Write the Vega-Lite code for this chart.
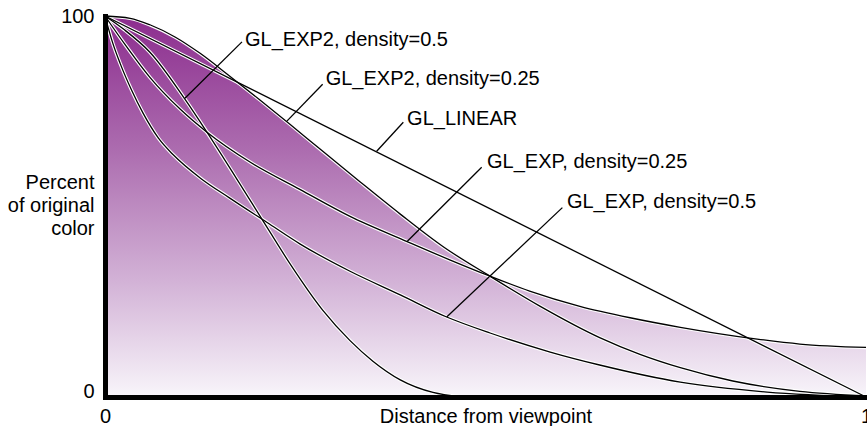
{
  "$schema": "https://vega.github.io/schema/vega-lite/v6.json",
  "width": 761,
  "height": 381,
  "padding": {"left": 105, "top": 16, "right": 1, "bottom": 29},
  "autosize": {"type": "none"},
  "background": "white",
  "config": {
    "view": {"stroke": null},
    "font": "Liberation Sans",
    "axis": {
      "grid": false, "ticks": false, "tickSize": 0,
      "domain": true, "domainColor": "#000000", "domainWidth": 5, "domainCap": "square",
      "labelFontSize": 20, "labelColor": "black",
      "labelFlush": false, "labelOverlap": false,
      "titleFontSize": 20, "titleFontWeight": "normal", "titleColor": "black"
    }
  },
  "datasets": {
    "envelope": [
      {"x": 0, "y": 100}, {"x": 0.033, "y": 99.4}, {"x": 0.059, "y": 97.7}, {"x": 0.092, "y": 94.5},
      {"x": 0.125, "y": 90.2}, {"x": 0.164, "y": 84.2}, {"x": 0.204, "y": 77.9}, {"x": 0.243, "y": 71.6},
      {"x": 0.283, "y": 65.0}, {"x": 0.335, "y": 56.5}, {"x": 0.388, "y": 48.0}, {"x": 0.444, "y": 39.5},
      {"x": 0.506, "y": 31.7}, {"x": 0.558, "y": 27.8}, {"x": 0.624, "y": 23.8}, {"x": 0.69, "y": 20.8},
      {"x": 0.756, "y": 18.3}, {"x": 0.857, "y": 15.2}, {"x": 0.913, "y": 13.9}, {"x": 1, "y": 13.0}
    ],
    "curves": [
      {"s": "linear", "x": 0, "y": 100}, {"s": "linear", "x": 1, "y": 0},
      {"s": "exp2_025", "x": 0, "y": 100}, {"s": "exp2_025", "x": 0.033, "y": 99.4}, {"s": "exp2_025", "x": 0.059, "y": 97.7},
      {"s": "exp2_025", "x": 0.092, "y": 94.5}, {"s": "exp2_025", "x": 0.125, "y": 90.2}, {"s": "exp2_025", "x": 0.164, "y": 84.2},
      {"s": "exp2_025", "x": 0.204, "y": 77.9}, {"s": "exp2_025", "x": 0.243, "y": 71.6}, {"s": "exp2_025", "x": 0.283, "y": 65.0},
      {"s": "exp2_025", "x": 0.335, "y": 56.5}, {"s": "exp2_025", "x": 0.388, "y": 48.0}, {"s": "exp2_025", "x": 0.444, "y": 39.5},
      {"s": "exp2_025", "x": 0.506, "y": 31.7}, {"s": "exp2_025", "x": 0.572, "y": 23.8}, {"s": "exp2_025", "x": 0.65, "y": 15.6},
      {"s": "exp2_025", "x": 0.703, "y": 11.2}, {"s": "exp2_025", "x": 0.756, "y": 7.7}, {"s": "exp2_025", "x": 0.825, "y": 4.2},
      {"s": "exp2_025", "x": 0.913, "y": 1.5}, {"s": "exp2_025", "x": 1, "y": 0.3},
      {"s": "exp_025", "x": 0, "y": 100}, {"s": "exp_025", "x": 0.026, "y": 92.6}, {"s": "exp_025", "x": 0.059, "y": 83.9},
      {"s": "exp_025", "x": 0.099, "y": 75.5}, {"s": "exp_025", "x": 0.134, "y": 69.5}, {"s": "exp_025", "x": 0.191, "y": 61.6},
      {"s": "exp_025", "x": 0.256, "y": 54.5}, {"s": "exp_025", "x": 0.322, "y": 47.4}, {"s": "exp_025", "x": 0.397, "y": 40.8},
      {"s": "exp_025", "x": 0.453, "y": 36.0}, {"s": "exp_025", "x": 0.506, "y": 31.7}, {"s": "exp_025", "x": 0.558, "y": 27.8},
      {"s": "exp_025", "x": 0.624, "y": 23.8}, {"s": "exp_025", "x": 0.69, "y": 20.8}, {"s": "exp_025", "x": 0.756, "y": 18.3},
      {"s": "exp_025", "x": 0.857, "y": 15.2}, {"s": "exp_025", "x": 0.913, "y": 13.9}, {"s": "exp_025", "x": 1, "y": 13.0},
      {"s": "exp_05", "x": 0, "y": 100}, {"s": "exp_05", "x": 0.01, "y": 93.0}, {"s": "exp_05", "x": 0.02, "y": 87.5},
      {"s": "exp_05", "x": 0.035, "y": 80.5}, {"s": "exp_05", "x": 0.05, "y": 74.5}, {"s": "exp_05", "x": 0.07, "y": 68.0},
      {"s": "exp_05", "x": 0.09, "y": 63.5}, {"s": "exp_05", "x": 0.125, "y": 57.5}, {"s": "exp_05", "x": 0.164, "y": 52.2},
      {"s": "exp_05", "x": 0.213, "y": 45.8}, {"s": "exp_05", "x": 0.256, "y": 40.2}, {"s": "exp_05", "x": 0.322, "y": 33.0},
      {"s": "exp_05", "x": 0.388, "y": 26.8}, {"s": "exp_05", "x": 0.449, "y": 21.0}, {"s": "exp_05", "x": 0.506, "y": 16.8},
      {"s": "exp_05", "x": 0.585, "y": 11.8}, {"s": "exp_05", "x": 0.65, "y": 8.4}, {"s": "exp_05", "x": 0.756, "y": 3.9},
      {"s": "exp_05", "x": 0.87, "y": 1.3}, {"s": "exp_05", "x": 1, "y": 0},
      {"s": "exp2_05", "x": 0, "y": 100}, {"s": "exp2_05", "x": 0.026, "y": 96.3}, {"s": "exp2_05", "x": 0.059, "y": 90.5},
      {"s": "exp2_05", "x": 0.105, "y": 78.2}, {"s": "exp2_05", "x": 0.134, "y": 69.5}, {"s": "exp2_05", "x": 0.171, "y": 57.9},
      {"s": "exp2_05", "x": 0.213, "y": 44.5}, {"s": "exp2_05", "x": 0.243, "y": 35.0}, {"s": "exp2_05", "x": 0.286, "y": 22.8},
      {"s": "exp2_05", "x": 0.322, "y": 14.8}, {"s": "exp2_05", "x": 0.352, "y": 9.4}, {"s": "exp2_05", "x": 0.388, "y": 4.5},
      {"s": "exp2_05", "x": 0.431, "y": 1.2}, {"s": "exp2_05", "x": 0.466, "y": 0.1}
    ],
    "labels": [
      {"text": "GL_EXP2, density=0.5", "x": 0.184, "y": 93.7, "x1": 0.105, "y1": 78.4, "x2": 0.18, "y2": 93.2},
      {"text": "GL_EXP2, density=0.25", "x": 0.29, "y": 83.4, "x1": 0.239, "y1": 72.4, "x2": 0.286, "y2": 82.1},
      {"text": "GL_LINEAR", "x": 0.397, "y": 72.9, "x1": 0.357, "y1": 64.5, "x2": 0.392, "y2": 72.1},
      {"text": "GL_EXP, density=0.25", "x": 0.502, "y": 61.8, "x1": 0.397, "y1": 40.8, "x2": 0.495, "y2": 60.3},
      {"text": "GL_EXP, density=0.5", "x": 0.607, "y": 51.3, "x1": 0.449, "y1": 21.0, "x2": 0.601, "y2": 49.7}
    ]
  },
  "layer": [
    {
      "data": {"name": "envelope"},
      "mark": {
        "type": "area",
        "interpolate": "monotone",
        "fill": {
          "gradient": "linear", "x1": 0, "y1": 0, "x2": 0, "y2": 1,
          "stops": [
            {"offset": 0, "color": "#8C2D8E"},
            {"offset": 0.35, "color": "#AC6CAF"},
            {"offset": 0.7, "color": "#D3B3D7"},
            {"offset": 1, "color": "#F8F5FA"}
          ]
        }
      },
      "encoding": {
        "x": {
          "field": "x", "type": "quantitative",
          "scale": {"domain": [0, 1], "nice": false},
          "axis": {
            "values": [0, 1], "format": "d", "title": "Distance from viewpoint",
            "domain": true, "domainColor": "#000000", "domainWidth": 5, "zindex": 1,
            "labelBaseline": "alphabetic", "labelPadding": 25,
            "titleBaseline": "alphabetic", "titleY": 25
          }
        },
        "y": {
          "field": "y", "type": "quantitative",
          "scale": {"domain": [0, 100], "nice": false},
          "axis": {
            "values": [0, 100], "title": ["Percent", "of original", "color"],
            "domain": true, "domainColor": "#000000", "domainWidth": 5, "zindex": 1,
            "labelPadding": 11,
            "labelBaseline": {"condition": {"test": "datum.value == 0", "value": "alphabetic"}, "value": "middle"},
            "titleAngle": 0, "titleAlign": "right", "titleBaseline": "middle",
            "titleX": -11, "titleY": 166, "titleLineHeight": 23
          }
        }
      }
    },
    {
      "data": {"name": "curves"},
      "mark": {"type": "line", "stroke": "white", "strokeWidth": 3.5, "interpolate": "monotone"},
      "encoding": {
        "x": {"field": "x", "type": "quantitative"},
        "y": {"field": "y", "type": "quantitative"},
        "detail": {"field": "s"}
      }
    },
    {
      "data": {"name": "curves"},
      "mark": {"type": "line", "stroke": "black", "strokeWidth": 1.3, "interpolate": "monotone"},
      "encoding": {
        "x": {"field": "x", "type": "quantitative"},
        "y": {"field": "y", "type": "quantitative"},
        "detail": {"field": "s"}
      }
    },
    {
      "data": {"name": "labels"},
      "mark": {"type": "rule", "stroke": "black", "strokeWidth": 1.3},
      "encoding": {
        "x": {"field": "x1", "type": "quantitative"},
        "y": {"field": "y1", "type": "quantitative"},
        "x2": {"field": "x2"},
        "y2": {"field": "y2"}
      }
    },
    {
      "data": {"name": "labels"},
      "mark": {"type": "text", "align": "left", "baseline": "middle", "fontSize": 20, "font": "Liberation Sans", "color": "black"},
      "encoding": {
        "x": {"field": "x", "type": "quantitative"},
        "y": {"field": "y", "type": "quantitative"},
        "text": {"field": "text"}
      }
    }
  ]
}
